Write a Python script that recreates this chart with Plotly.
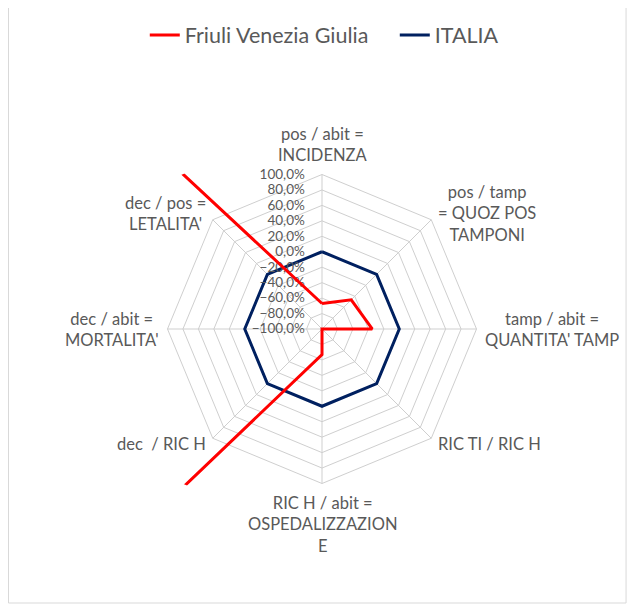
import math
import plotly.graph_objects as go

# ---- data ----
categories = [
    "pos / abit =<br>INCIDENZA",
    "pos / tamp<br>= QUOZ POS<br>TAMPONI",
    "tamp / abit =<br>QUANTITA' TAMP",
    "RIC TI / RIC H",
    "RIC H / abit =<br>OSPEDALIZZAZION<br>E",
    "dec  / RIC H",
    "dec / abit =<br>MORTALITA'",
    "dec / pos =<br>LETALITA'",
]
friuli = [-0.67, -0.465, -0.35, -1.00, -0.67, 9.5, 7.0, 5.7]
italia = [0.0, 0.0, 0.0, 0.0, 0.0, 0.0, 0.0, 0.0]
tick_vals = [-1.0, -0.8, -0.6, -0.4, -0.2, 0.0, 0.2, 0.4, 0.6, 0.8, 1.0]

# ---- layout geometry (screen pixels; page has an 8px body margin) ----
W, H = 637, 608
OFF = 8
cx, cy = 323, 329
R1 = 155          # radius of the visible radar grid (px)
R2 = 213          # clipping radius for the overflowing series (px)
LABEL_GAP = 8
rmin, rmax = tick_vals[0], tick_vals[-1]
per_px = (rmax - rmin) / R1
r2max = rmin + R2 * per_px

def fx(sx):
    return (sx - OFF) / W

def fy(sy):
    return 1 - (sy - OFF) / H

def dom(R):
    return dict(x=[fx(cx - R), fx(cx + R)], y=[fy(cy + R), fy(cy - R)])

theta = categories + [categories[0]]
FONT = "Lato"
GREY = "#595959"
GRID = "#CFCFCF"

fig = go.Figure()
fig.add_trace(go.Scatterpolar(
    r=italia + [italia[0]], theta=theta, mode="lines", name="ITALIA",
    line=dict(color="#002060", width=3), subplot="polar", legendrank=2))
fig.add_trace(go.Scatterpolar(
    r=friuli + [friuli[0]], theta=theta, mode="lines", name="Friuli Venezia Giulia",
    line=dict(color="#FF0000", width=3), subplot="polar2", legendrank=1))

# category labels, placed Excel-style just outside each spoke of the grid
annotations = []
n = len(categories)
for k, label in enumerate(categories):
    a = 2 * math.pi * k / n
    s, c = math.sin(a), math.cos(a)
    sx = cx + (R1 + LABEL_GAP) * s
    sy = cy - (R1 + LABEL_GAP) * c
    xa = "center" if abs(s) < 0.1 else ("left" if s > 0 else "right")
    ya = "bottom" if c > 0.9 else ("top" if c < -0.9 else "middle")
    annotations.append(dict(
        text=label, x=fx(sx), y=fy(sy), xref="paper", yref="paper",
        xanchor=xa, yanchor=ya, align="center", showarrow=False, borderpad=0,
        font=dict(size=16.5, color=GREY, family=FONT)))

fig.update_layout(
    width=W, height=H,
    margin=dict(l=0, r=0, t=0, b=0),
    paper_bgcolor="white",
    separators=",.",
    font=dict(family=FONT, color=GREY),
    showlegend=True,
    legend=dict(orientation="h", x=fx(396), xanchor="center", y=fy(35), yanchor="middle",
                font=dict(size=21.5, color=GREY, family=FONT), bgcolor="rgba(0,0,0,0)",
                traceorder="normal", entrywidth=205, entrywidthmode="pixels"),
    polar=dict(
        domain=dom(R1), gridshape="linear", bgcolor="white",
        radialaxis=dict(range=[rmin, rmax], tickvals=tick_vals, tickformat=".1%",
                        angle=90, tickangle=90, showline=False,
                        ticks="outside", ticklen=12, tickcolor="rgba(0,0,0,0)",
                        gridcolor=GRID, gridwidth=1, side="counterclockwise",
                        tickfont=dict(size=13.5, color=GREY, family=FONT)),
        angularaxis=dict(type="category", categoryarray=categories, rotation=90,
                         direction="clockwise", gridcolor=GRID, linecolor=GRID,
                         showline=True, ticks="", showticklabels=False),
    ),
    polar2=dict(
        domain=dom(R2), gridshape="linear", bgcolor="rgba(0,0,0,0)",
        radialaxis=dict(range=[rmin, r2max], visible=False, showgrid=False),
        angularaxis=dict(type="category", categoryarray=categories, rotation=90,
                         direction="clockwise", visible=False, showgrid=False,
                         showline=False),
    ),
    annotations=annotations,
    shapes=[dict(type="rect", xref="paper", yref="paper",
                 x0=0.5 / W, x1=fx(628), y0=fy(603), y1=1.05,
                 line=dict(color="#D9D9D9", width=1), fillcolor="rgba(0,0,0,0)",
                 layer="below")],
)

fig.write_html("out.html")
